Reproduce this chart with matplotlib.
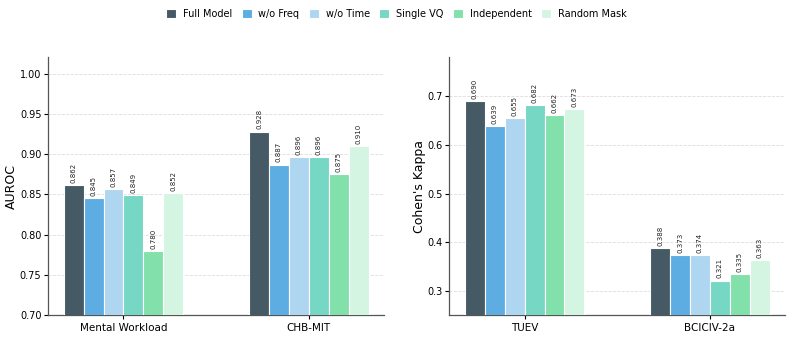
import numpy as np
import matplotlib
matplotlib.use('Agg')
import matplotlib.pyplot as plt

plt.rcParams['font.family'] = 'DejaVu Sans'
plt.rcParams['axes.edgecolor'] = '#555555'
plt.rcParams['axes.linewidth'] = 0.9

# Data
variants = ['Full Model', 'w/o Freq', 'w/o Time', 'Single VQ', 'Independent', 'Random Mask']
colors = ['#455A64', '#5DADE2', '#AED6F1', '#76D7C4', '#82E0AA', '#D5F5E3']

auroc_datasets = ['Mental Workload', 'CHB-MIT']
auroc_mental = [0.862, 0.845, 0.857, 0.849, 0.780, 0.852]
auroc_chbmit = [0.928, 0.887, 0.896, 0.896, 0.875, 0.910]

kappa_datasets = ['TUEV', 'BCICIV-2a']
kappa_tuev = [0.690, 0.639, 0.655, 0.682, 0.662, 0.673]
kappa_bci = [0.388, 0.373, 0.374, 0.321, 0.335, 0.363]

bar_width = 0.1076


def draw_panel(ax, datasets, series, ylabel, ylim, yticks, fmt, label_x):
    x = np.arange(len(datasets))
    vals = np.array(series).T  # shape: variants x datasets
    for i, name in enumerate(variants):
        offs = (i - (len(variants) - 1) / 2) * bar_width
        bars = ax.bar(x + offs, vals[i], bar_width, color=colors[i],
                      edgecolor='white', linewidth=0.8, label=name, zorder=3)
        for b, v in zip(bars, vals[i]):
            ax.annotate(fmt.format(v), (b.get_x() + b.get_width() / 2, v),
                        xytext=(0, 1.5), textcoords='offset points',
                        ha='center', va='bottom', rotation=90, fontsize=5,
                        color='#222222')
    ax.set_xticks(x)
    ax.set_xticklabels(datasets, fontsize=7.5)
    ax.set_ylim(*ylim)
    ax.set_yticks(yticks)
    ax.tick_params(axis='y', labelsize=7, length=3, pad=2)
    ax.tick_params(axis='x', length=3, pad=2.5)
    ax.set_ylabel(ylabel, fontsize=9)
    ax.yaxis.set_label_coords(label_x, 0.5)
    ax.grid(True, axis='y', linestyle='--', color='#dddddd', linewidth=0.6, zorder=0)
    ax.spines['top'].set_visible(False)
    ax.spines['right'].set_visible(False)


fig, (ax1, ax2) = plt.subplots(1, 2, figsize=(7.93, 3.38), dpi=100)
fig.subplots_adjust(left=0.061, right=0.99, bottom=0.068, top=0.83, wspace=0.195)

draw_panel(ax1, auroc_datasets, [auroc_mental, auroc_chbmit], 'AUROC',
           (0.70, 1.02), [0.70, 0.75, 0.80, 0.85, 0.90, 0.95, 1.00], '{:.3f}', -0.092)
ax1.set_yticklabels(['0.70', '0.75', '0.80', '0.85', '0.90', '0.95', '1.00'])
draw_panel(ax2, kappa_datasets, [kappa_tuev, kappa_bci], "Cohen's Kappa",
           (0.25, 0.78), [0.3, 0.4, 0.5, 0.6, 0.7], '{:.3f}', -0.071)

handles, labels = ax1.get_legend_handles_labels()
fig.legend(handles, labels, loc='upper center', ncol=6, frameon=False,
           fontsize=7, bbox_to_anchor=(0.5, 1.0), handlelength=1.0,
           handleheight=1.0, columnspacing=1.0, handletextpad=0.7)

fig.savefig('out.png', dpi=100)
